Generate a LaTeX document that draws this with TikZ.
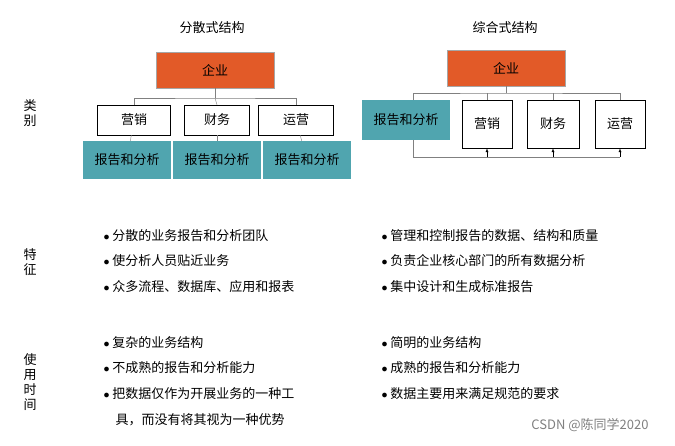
\documentclass[tikz,border=0pt]{standalone}
\usepackage{fontspec}
\setmainfont{Noto Sans CJK SC}
\usetikzlibrary{positioning}
\definecolor{orgorange}{RGB}{226,90,40}
\definecolor{rptteal}{RGB}{80,165,175}
\tikzset{
  txt/.style={font=\fontsize{13}{15}\selectfont},
  top/.style={txt, draw=gray!70, fill=orgorange, minimum width=118pt, minimum height=36pt},
  dept/.style={txt, draw, fill=white, minimum height=30pt},
  rpt/.style={txt, fill=rptteal, minimum width=88pt, minimum height=38pt, inner sep=1pt},
  item/.style={txt, anchor=west},
  side/.style={txt, align=center}
}
\begin{document}
\begin{tikzpicture}[x=1pt, y=-1pt]
\useasboundingbox (0,0) rectangle (675,445);
% headers
\node[txt] (h1) at (212,28) {分散式结构};
\node[txt] (h2) at (505,28) {综合式结构};
\node[side] (s1) at (30,113) {类\\别};
\node[side] (s2) at (30,262) {特\\征};
\node[side] (s3) at (30,382) {使\\用\\时\\间};

% left: decentralised
\node[top] (c1) at (215,70) {企业};
\node[dept, minimum width=73pt] (m1) at (134,120) {营销};
\node[dept, minimum width=65pt] (f1) at (217,120) {财务};
\node[dept, minimum width=75pt] (o1) at (296,120) {运营};
\node[rpt] (r1) at (127,160) {报告和分析};
\node[rpt] (r2) at (217,160) {报告和分析};
\node[rpt] (r3) at (307,160) {报告和分析};
\draw[gray] (c1.south) -- (215,98);
\draw[gray] (m1.north) |- (215,98) -| (o1.north);
\draw[gray] (f1.north) -- (215,98);
\draw[gray] (m1) -- (r1);
\draw[gray] (f1) -- (r2);
\draw[gray] (o1) -- (r3);

% right: centralised
\node[top] (c2) at (506,68) {企业};
\node[rpt, minimum height=40pt] (r4) at (406,120) {报告和分析};
\node[dept, minimum width=50pt, minimum height=48pt] (m2) at (487,124) {营销};
\node[dept, minimum width=52pt, minimum height=48pt] (f2) at (553,124) {财务};
\node[dept, minimum width=50pt, minimum height=48pt] (o2) at (620,124) {运营};
\draw[gray] (c2.south) -- (506,93);
\draw[gray] (413,100) |- (506,93) -| (o2.north);
\draw[gray] (m2.north) -- ++(0,-7);
\draw[gray] (f2.north) -- ++(0,-7);
\coordinate (b0) at (413,157);
\draw[gray] (r4.south -| b0) -- (b0) -- (o2.south |- b0);
\draw[-latex] (m2.south |- b0) -- (m2.south);
\draw[-latex] (f2.south |- b0) -- (f2.south);
\draw[-latex] (o2.south |- b0) -- (o2.south);

% features
\foreach \t/\y [count=\i] in {分散的业务报告和分析团队/236, 使分析人员贴近业务/261, 众多流程、数据库、应用和报表/287}
  \node[item] (fl\i) at (100,\y) {$\bullet$ \t};
\foreach \t/\y [count=\i] in {管理和控制报告的数据、结构和质量/236, 负责企业核心部门的所有数据分析/261, 集中设计和生成标准报告/287}
  \node[item] (fr\i) at (378,\y) {$\bullet$ \t};

% usage
\foreach \t/\y [count=\i] in {复杂的业务结构/343, 不成熟的报告和分析能力/368, 把数据仅作为开展业务的一种工/394}
  \node[item] (ul\i) at (100,\y) {$\bullet$ \t};
\node[item] (ul4) at (112,420) {具，而没有将其视为一种优势};
\foreach \t/\y [count=\i] in {简明的业务结构/343, 成熟的报告和分析能力/368, 数据主要用来满足规范的要求/394}
  \node[item] (ur\i) at (378,\y) {$\bullet$ \t};
\node[txt, text=gray] (wm) at (590,425) {CSDN @陈同学2020};
\end{tikzpicture}
\end{document}
